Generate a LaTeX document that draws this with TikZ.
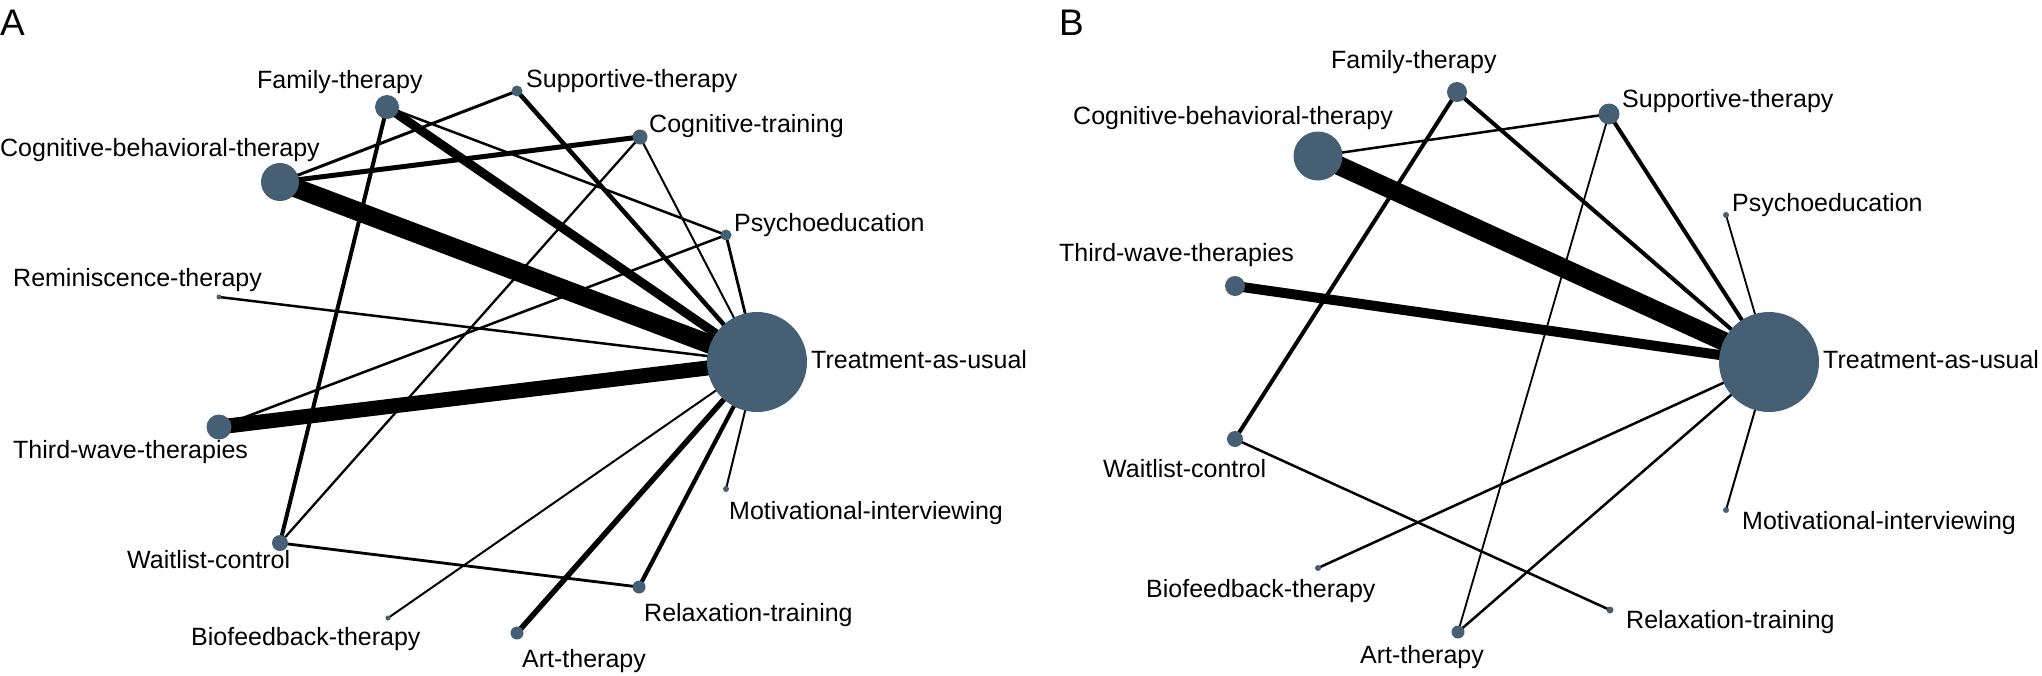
\documentclass[tikz,border=0pt]{standalone}
\usepackage{fontspec}
\setmainfont{Liberation Sans}
\usepackage{xcolor}
\usepackage{tikz}
\usetikzlibrary{positioning}
\definecolor{nodeblue}{RGB}{69,95,117}
\pgfdeclarelayer{bg}
\pgfsetlayers{bg,main}

\begin{document}
\begin{tikzpicture}[
    x=1pt, y=-1pt,
    trt/.style={circle, fill=nodeblue, draw=none, inner sep=0pt, minimum size=#1pt},
    lbl/.style={anchor=base west, inner sep=0pt, font=\fontsize{25}{30}\selectfont},
    panel/.style={anchor=base west, inner sep=0pt, font=\fontsize{37}{44}\selectfont},
    w/.style={line width=#1pt}
  ]

  \useasboundingbox (0,0) rectangle (2042,675);

  % Panel A: nodes
  \node[trt=100] (aTAU) at (757,362) {};
  \node[trt=38]  (aCBT) at (280,182) {};
  \node[trt=24]  (aFT)  at (387,107) {};
  \node[trt=11]  (aST)  at (517,91)  {};
  \node[trt=15]  (aCT)  at (640,137) {};
  \node[trt=11]  (aPE)  at (726,235) {};
  \node[trt=5]   (aRT)  at (219,297) {};
  \node[trt=25]  (aTW)  at (219,427) {};
  \node[trt=16]  (aWL)  at (280,543) {};
  \node[trt=6]   (aMI)  at (726,489) {};
  \node[trt=13]  (aRX)  at (639,587) {};
  \node[trt=5]   (aBF)  at (388,618) {};
  \node[trt=13]  (aAT)  at (517,633) {};

  % Panel A: labels
  \node[panel] (aTitle) at (0,35)  {A};
  \node[lbl] (aFTl)  at (257,88)  {Family-therapy};
  \node[lbl] (aSTl)  at (526,87)  {Supportive-therapy};
  \node[lbl] (aCTl)  at (649,132) {Cognitive-training};
  \node[lbl] (aCBTl) at (0,156)   {Cognitive-behavioral-therapy};
  \node[lbl] (aPEl)  at (734,231) {Psychoeducation};
  \node[lbl] (aRTl)  at (13,286)  {Reminiscence-therapy};
  \node[lbl] (aTAUl) at (811,368) {Treatment-as-usual};
  \node[lbl] (aTWl)  at (13,458)  {Third-wave-therapies};
  \node[lbl] (aWLl)  at (127,568) {Waitlist-control};
  \node[lbl] (aMIl)  at (729,519) {Motivational-interviewing};
  \node[lbl] (aRXl)  at (644,621) {Relaxation-training};
  \node[lbl] (aBFl)  at (191,645) {Biofeedback-therapy};
  \node[lbl] (aATl)  at (522,667) {Art-therapy};

  % Panel B: nodes
  \node[trt=100] (bTAU) at (1769,362) {};
  \node[trt=49]  (bCBT) at (1318,156) {};
  \node[trt=20]  (bFT)  at (1457,92)  {};
  \node[trt=21]  (bST)  at (1609,114) {};
  \node[trt=6]   (bPE)  at (1726,215) {};
  \node[trt=20]  (bTW)  at (1235,286) {};
  \node[trt=16]  (bWL)  at (1235,439) {};
  \node[trt=6]   (bMI)  at (1726,510) {};
  \node[trt=6]   (bBF)  at (1318,568) {};
  \node[trt=7]   (bRX)  at (1610,610) {};
  \node[trt=13]  (bAT)  at (1458,632) {};

  % Panel B: labels
  \node[panel] (bTitle) at (1059,35) {B};
  \node[lbl] (bFTl)  at (1331,68)  {Family-therapy};
  \node[lbl] (bSTl)  at (1622,107) {Supportive-therapy};
  \node[lbl] (bCBTl) at (1073,124) {Cognitive-behavioral-therapy};
  \node[lbl] (bPEl)  at (1732,211) {Psychoeducation};
  \node[lbl] (bTWl)  at (1059,261) {Third-wave-therapies};
  \node[lbl] (bTAUl) at (1823,368) {Treatment-as-usual};
  \node[lbl] (bWLl)  at (1103,477) {Waitlist-control};
  \node[lbl] (bMIl)  at (1742,529) {Motivational-interviewing};
  \node[lbl] (bBFl)  at (1146,597) {Biofeedback-therapy};
  \node[lbl] (bRXl)  at (1626,628) {Relaxation-training};
  \node[lbl] (bATl)  at (1360,663) {Art-therapy};

  % Edges (width = amount of evidence), behind the nodes
  \begin{pgfonlayer}{bg}
    % panel A
    \draw[w=19]  (aCBT.center) -- (aTAU.center);
    \draw[w=15]  (aTW.center)  -- (aTAU.center);
    \draw[w=9]   (aFT.center)  -- (aTAU.center);
    \draw[w=5.5] (aAT.center)  -- (aTAU.center);
    \draw[w=5]   (aCBT.center) -- (aCT.center);
    \draw[w=4.5] (aST.center)  -- (aTAU.center);
    \draw[w=4.2] (aRX.center)  -- (aTAU.center);
    \draw[w=4]   (aFT.center)  -- (aWL.center);
    \draw[w=3]   (aCBT.center) -- (aST.center);
    \draw[w=2.5] (aFT.center)  -- (aPE.center);
    \draw[w=2.3] (aCT.center)  -- (aWL.center);
    \draw[w=2]   (aCT.center)  -- (aTAU.center);
    \draw[w=2.5] (aPE.center)  -- (aTW.center);
    \draw[w=2.8] (aPE.center)  -- (aTAU.center);
    \draw[w=2.5] (aRT.center)  -- (aTAU.center);
    \draw[w=2.8] (aWL.center)  -- (aRX.center);
    \draw[w=2]   (aBF.center)  -- (aTAU.center);
    \draw[w=2]   (aMI.center)  -- (aTAU.center);
    % panel B
    \draw[w=19]  (bCBT.center) -- (bTAU.center);
    \draw[w=10]  (bTW.center)  -- (bTAU.center);
    \draw[w=4]   (bFT.center)  -- (bTAU.center);
    \draw[w=4]   (bFT.center)  -- (bWL.center);
    \draw[w=4]   (bST.center)  -- (bTAU.center);
    \draw[w=2.5] (bCBT.center) -- (bST.center);
    \draw[w=1.8] (bST.center)  -- (bAT.center);
    \draw[w=1.8] (bPE.center)  -- (bTAU.center);
    \draw[w=2.5] (bWL.center)  -- (bRX.center);
    \draw[w=2.5] (bBF.center)  -- (bTAU.center);
    \draw[w=2.5] (bAT.center)  -- (bTAU.center);
    \draw[w=2]   (bMI.center)  -- (bTAU.center);
  \end{pgfonlayer}

\end{tikzpicture}
\end{document}
